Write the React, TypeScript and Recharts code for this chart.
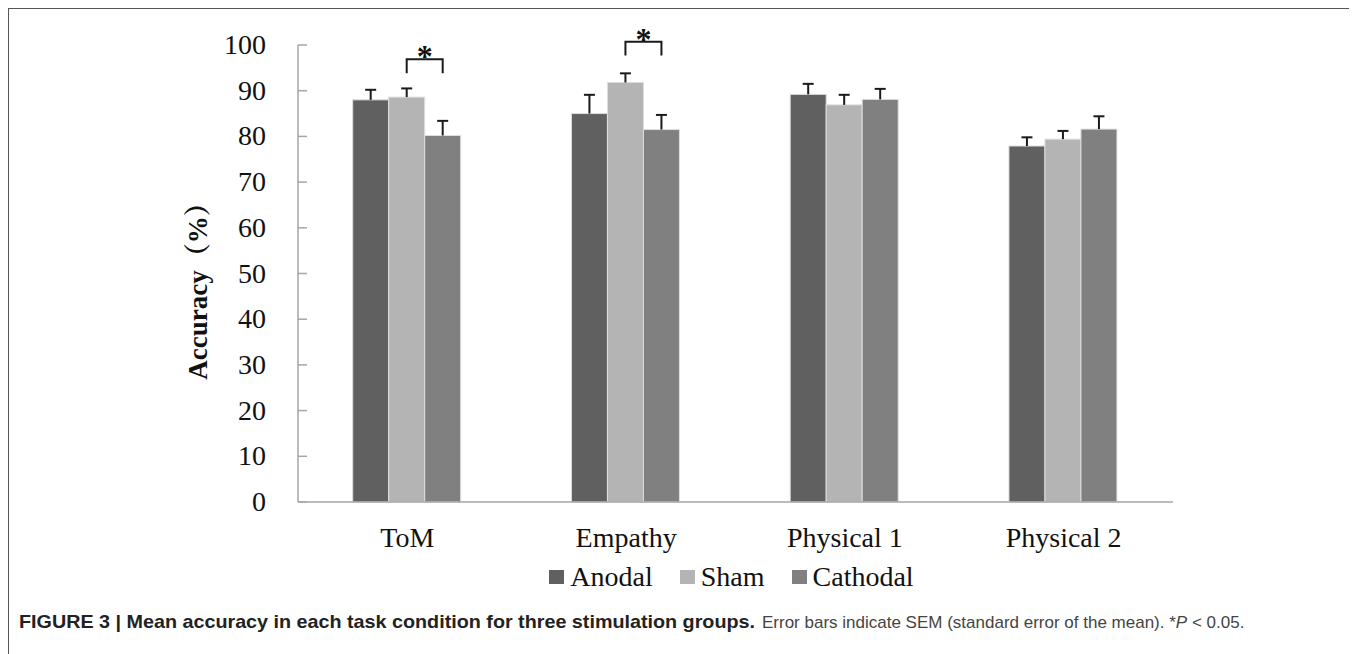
import { Bar, BarChart, Legend, XAxis, YAxis } from "recharts";

const categories = ["ToM", "Empathy", "Physical 1", "Physical 2"];
const seriesOrder = ["Anodal", "Sham", "Cathodal"];
const anodal = [88.0, 85.0, 89.2, 77.9];
const sham = [88.6, 91.8, 86.9, 79.4];
const cathodal = [80.2, 81.5, 88.1, 81.6];
const anodalSem = [2.2, 4.1, 2.3, 1.9];
const shamSem = [1.9, 2.0, 2.2, 1.8];
const cathodalSem = [3.2, 3.2, 2.3, 2.8];
const yTicks = [0, 10, 20, 30, 40, 50, 60, 70, 80, 90, 100];
// significance brackets between Sham and Cathodal (heights in % units)
const brackets = [
  { category: "ToM", low: 93.8, high: 96.9 },
  { category: "Empathy", low: 97.7, high: 100.7 },
];

const data = categories.map((c, i) => {
  const br = brackets.find((b) => b.category === c);
  return {
    name: c,
    Anodal: anodal[i],
    Sham: sham[i],
    Cathodal: cathodal[i],
    anodalSem: anodalSem[i],
    shamSem: shamSem[i],
    cathodalSem: cathodalSem[i],
    bracketLow: br ? br.low : null,
    bracketHigh: br ? br.high : null,
  };
});

const SERIF = "'Liberation Serif', 'Times New Roman', 'Noto Serif CJK SC', 'Noto Sans CJK SC', serif";
const SANS = "'Liberation Sans', Arial, sans-serif";

function barShape(semKey: string, withBracket: boolean) {
  return (props: any) => {
    const { x, y, width, height, fill, payload } = props;
    const val = payload[props.dataKey] ?? props.value;
    const v = Array.isArray(val) ? val[1] - val[0] : val;
    const perUnit = height / v;
    const base = y + height;
    const cx = x + width / 2;
    const errTop = y - payload[semKey] * perUnit;
    let bracket = null;
    if (withBracket && payload.bracketHigh != null) {
      const yl = base - payload.bracketLow * perUnit;
      const yh = base - payload.bracketHigh * perUnit;
      const lx = cx - width;
      bracket = (
        <g>
          <polyline
            points={`${lx},${yl} ${lx},${yh} ${cx},${yh} ${cx},${yl}`}
            fill="none"
            stroke="#1a1a1a"
            strokeWidth={2}
          />
          <text
            x={(lx + cx) / 2}
            y={yh + 8}
            textAnchor="middle"
            fontSize={32}
            fontWeight="bold"
            fontFamily={SERIF}
            fill="#111"
          >
            *
          </text>
        </g>
      );
    }
    return (
      <g>
        <rect x={x} y={y} width={width} height={height} fill={fill} stroke="#dedede" strokeWidth={1} />
        <line x1={cx} y1={y} x2={cx} y2={errTop} stroke="#1a1a1a" strokeWidth={2} />
        <line x1={cx - 5.5} y1={errTop} x2={cx + 5.5} y2={errTop} stroke="#1a1a1a" strokeWidth={2} />
        {bracket}
      </g>
    );
  };
}

const YTick = (props: any) => {
  const { x, y, payload } = props;
  return (
    <g>
      <line x1={x} y1={y} x2={x + 9} y2={y} stroke="#a6a6a6" strokeWidth={1.5} />
      <text x={x - 32} y={y} dy={9} textAnchor="end" fontSize={28} fontFamily={SERIF} fill="#111">
        {payload.value}
      </text>
    </g>
  );
};

const XTick = (props: any) => {
  const { x, y, payload } = props;
  return (
    <text x={x} y={y} dy={45} textAnchor="middle" fontSize={28} fontFamily={SERIF} fill="#111">
      {payload.value}
    </text>
  );
};

const YLabel = (props: any) => {
  const { viewBox } = props;
  const cx = viewBox.x - 20;
  const cy = viewBox.y + viewBox.height / 2 + 11;
  return (
    <text
      x={cx}
      y={cy}
      transform={`rotate(-90, ${cx}, ${cy})`}
      textAnchor="middle"
      dominantBaseline="central"
      fontSize={27}
      fontWeight="bold"
      fontFamily={SERIF}
      fill="#111"
    >
      Accuracy（%）
    </text>
  );
};

const LegendContent = (props: any) => {
  const items = [...(props.payload || [])].sort(
    (a: any, b: any) => seriesOrder.indexOf(a.value) - seriesOrder.indexOf(b.value)
  );
  return (
    <div
      style={{
        display: "flex",
        justifyContent: "center",
        alignItems: "center",
        height: 30,
        fontFamily: SERIF,
        fontSize: 28,
        color: "#111",
      }}
    >
      {items.map((p: any, i: number) => (
        <div
          key={p.value}
          style={{ display: "flex", alignItems: "center", marginRight: i < items.length - 1 ? 27 : 0 }}
        >
          <span style={{ display: "inline-block", width: 15, height: 14, background: p.color, marginRight: 6 }} />
          <span>{p.value}</span>
        </div>
      ))}
    </div>
  );
};

export default function App() {
  return (
    <div
      style={{
        position: "relative",
        boxSizing: "border-box",
        width: 1348,
        height: 660,
        borderTop: "1px solid #555",
        borderLeft: "1px solid #555",
        borderRight: "1px solid #555",
        background: "#fff",
      }}
    >
      <style>{`html,body{overflow:hidden}`}</style>
      <BarChart
        width={1346}
        height={590}
        data={data}
        margin={{ top: 36, right: 182, left: 209, bottom: 7 }}
        barGap={0}
        barCategoryGap="25%"
      >
        <XAxis
          dataKey="name"
          height={60}
          tickLine={false}
          tickSize={0}
          tickMargin={0}
          axisLine={{ stroke: "#a6a6a6", strokeWidth: 1.5 }}
          tick={<XTick />}
          interval={0}
        />
        <YAxis
          domain={[0, 100]}
          ticks={yTicks}
          width={80}
          tickLine={false}
          tickSize={0}
          tickMargin={0}
          axisLine={{ stroke: "#a6a6a6", strokeWidth: 1.5 }}
          tick={<YTick />}
          label={<YLabel />}
          interval={0}
        />
        <Legend
          verticalAlign="bottom"
          content={<LegendContent />}
          wrapperStyle={{ left: 285, width: 875, top: 553, bottom: "auto", height: 30 }}
        />
        <Bar dataKey="Anodal" fill="#606060" isAnimationActive={false} shape={barShape("anodalSem", false)} />
        <Bar dataKey="Sham" fill="#b4b4b4" isAnimationActive={false} shape={barShape("shamSem", false)} />
        <Bar dataKey="Cathodal" fill="#808080" isAnimationActive={false} shape={barShape("cathodalSem", true)} />
      </BarChart>
      <svg width={1346} height={44} style={{ position: "absolute", left: 0, top: 598 }}>
        <text
          x={10}
          y={21}
          fontFamily={SANS}
          fontSize={19}
          fontWeight="bold"
          fill="#222"
          textLength={736}
          lengthAdjust="spacingAndGlyphs"
        >
          FIGURE 3 | Mean accuracy in each task condition for three stimulation groups.
        </text>
        <text x={753} y={21} fontFamily={SANS} fontSize={17} fill="#444">
          Error bars indicate SEM (standard error of the mean). *<tspan fontStyle="italic">P</tspan> {"<"} 0.05.
        </text>
      </svg>
    </div>
  );
}
